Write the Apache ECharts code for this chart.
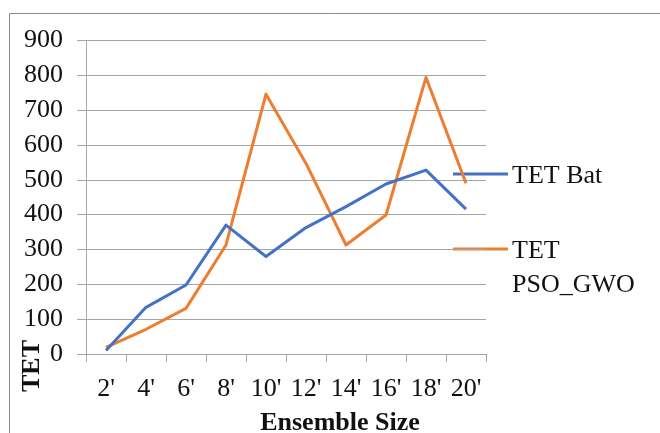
<!DOCTYPE html>
<html>
<head>
<meta charset="utf-8">
<script src="https://cdn.jsdelivr.net/npm/echarts@6/dist/echarts.min.js"></script>
<style>
  html, body { margin: 0; padding: 0; background: #fff; }
  #chart { width: 660px; height: 433px; }
</style>
</head>
<body>
<div id="chart"></div>
<script>
// Ensemble sizes on the x axis
var categories = ["2'", "4'", "6'", "8'", "10'", "12'", "14'", "16'", "18'", "20'"];
// Total execution time per algorithm
var tetBat = [10, 134, 198, 370, 280, 363, 423, 488, 528, 416];
var tetPsoGwo = [19, 71, 131, 313, 746, 547, 313, 399, 794, 490];
var seriesNames = ['TET Bat', 'TET\nPSO_GWO'];
var yTicks = { min: 0, max: 900, step: 100 };

var SERIF = '"Liberation Serif", "Times New Roman", serif';
var BLUE = '#4472C4';
var ORANGE = '#ED7D31';
var GRID = '#a6a6a6';

var chart = echarts.init(document.getElementById('chart'), null, { renderer: 'canvas' });

chart.setOption({
  animation: false,
  backgroundColor: '#ffffff',
  grid: { left: 86, right: 174, top: 40.5, bottom: 79, containLabel: false },
  xAxis: {
    type: 'category',
    data: categories,
    boundaryGap: true,
    axisLine: { show: true, lineStyle: { color: GRID, width: 1 } },
    axisTick: { show: true, length: 8, lineStyle: { color: GRID } },
    axisLabel: { fontFamily: SERIF, fontSize: 26, color: '#111', margin: 22, interval: 0 },
    splitLine: { show: false }
  },
  yAxis: {
    type: 'value',
    min: yTicks.min,
    max: yTicks.max,
    interval: yTicks.step,
    axisLine: { show: true, lineStyle: { color: GRID, width: 1 } },
    axisTick: { show: true, length: 9, lineStyle: { color: GRID } },
    axisLabel: { fontFamily: SERIF, fontSize: 26, color: '#111', margin: 23 },
    splitLine: { show: true, lineStyle: { color: GRID, width: 1 } }
  },
  series: [
    {
      name: seriesNames[0],
      type: 'line',
      data: tetBat,
      showSymbol: false,
      lineStyle: { color: BLUE, width: 3, join: 'round' },
      itemStyle: { color: BLUE },
      z: 3
    },
    {
      name: seriesNames[1],
      type: 'line',
      data: tetPsoGwo,
      showSymbol: false,
      lineStyle: { color: ORANGE, width: 3, join: 'round' },
      itemStyle: { color: ORANGE },
      z: 2
    }
  ],
  graphic: [
    // outer frame
    {
      type: 'rect',
      shape: { x: 9.5, y: 13.5, width: 700, height: 500 },
      style: { fill: 'none', stroke: '#8a8a8a', lineWidth: 1 },
      silent: true
    },
    // y axis title
    {
      type: 'text',
      x: 32, y: 366,
      rotation: Math.PI / 2,
      style: {
        text: 'TET', fontFamily: SERIF, fontSize: 26, fontWeight: 'bold',
        fill: '#111', align: 'center', verticalAlign: 'middle'
      }
    },
    // x axis title
    {
      type: 'text',
      x: 340, y: 423,
      style: {
        text: 'Ensemble Size', fontFamily: SERIF, fontSize: 26, fontWeight: 'bold',
        fill: '#111', align: 'center', verticalAlign: 'middle'
      }
    },
    // legend
    {
      type: 'line',
      shape: { x1: 453, y1: 174, x2: 508, y2: 174 },
      style: { stroke: BLUE, lineWidth: 3 }
    },
    {
      type: 'text',
      x: 512, y: 176,
      style: {
        text: seriesNames[0], fontFamily: SERIF, fontSize: 26,
        fill: '#111', align: 'left', verticalAlign: 'middle'
      }
    },
    {
      type: 'line',
      shape: { x1: 453, y1: 249, x2: 508, y2: 249 },
      style: { stroke: ORANGE, lineWidth: 3 }
    },
    {
      type: 'text',
      x: 512, y: 234,
      style: {
        text: seriesNames[1], fontFamily: SERIF, fontSize: 26, lineHeight: 34,
        fill: '#111', align: 'left', verticalAlign: 'top'
      }
    }
  ]
});
</script>
</body>
</html>
